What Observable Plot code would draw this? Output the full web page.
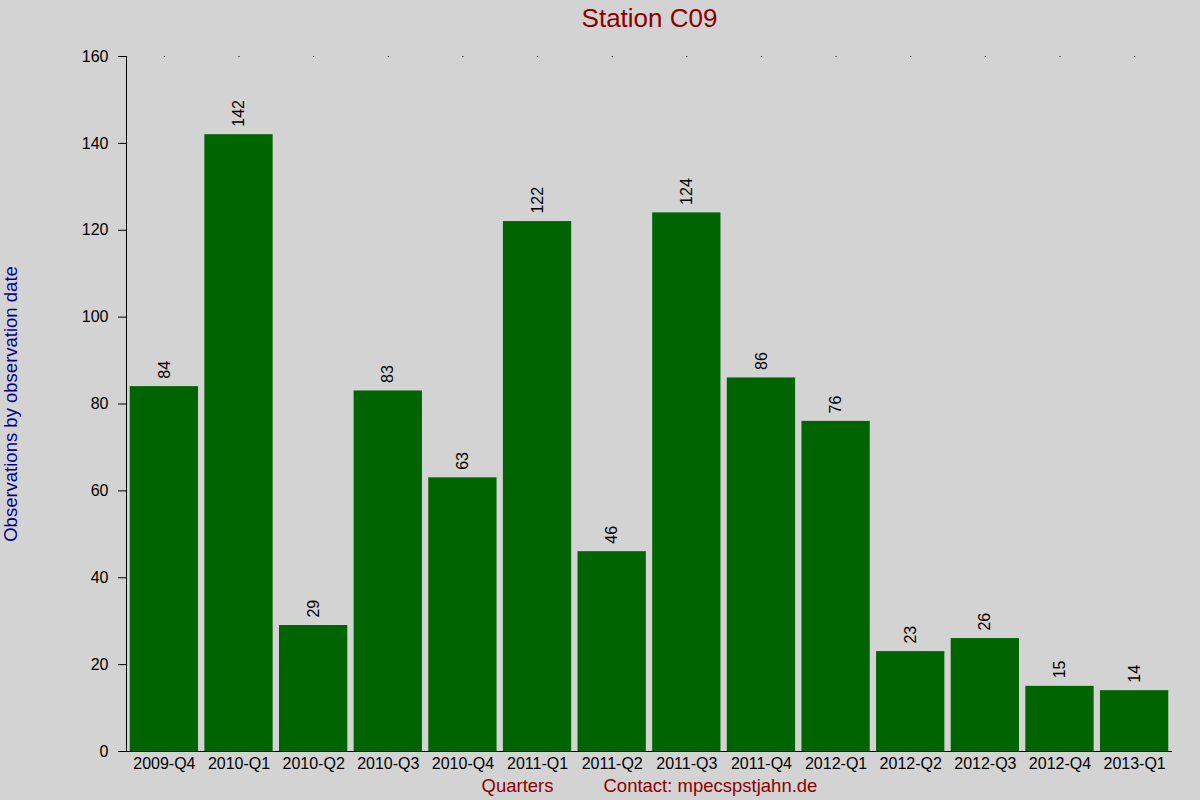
<!DOCTYPE html>
<html>
<head>
<meta charset="utf-8">
<script src="https://cdn.jsdelivr.net/npm/d3@7"></script>
<script src="https://cdn.jsdelivr.net/npm/@observablehq/plot@0.6"></script>
<style>
  html, body { margin: 0; padding: 0; background: #d3d3d3; }
</style>
</head>
<body>
<div id="chart"></div>
<script>
const quarters = ["2009-Q4","2010-Q1","2010-Q2","2010-Q3","2010-Q4","2011-Q1","2011-Q2","2011-Q3","2011-Q4","2012-Q1","2012-Q2","2012-Q3","2012-Q4","2013-Q1"];
const counts = [84,142,29,83,63,122,46,124,86,76,23,26,15,14];
const yTicks = [0,20,40,60,80,100,120,140,160];
const titleText = "Station C09";
const yLabel = "Observations by observation date";
const xLabel = "Quarters";
const contactText = "Contact: mpecspstjahn.de";

const data = quarters.map((q, i) => ({quarter: q, count: counts[i]}));

const chart = Plot.plot({
  width: 1200,
  height: 800,
  marginLeft: 126,
  marginRight: 28,
  marginTop: 56,
  marginBottom: 49,
  style: {background: "#d3d3d3", fontFamily: "'Liberation Sans', Arial, sans-serif", fontSize: "16px", color: "black"},
  x: {domain: quarters, paddingInner: 0.085, paddingOuter: 0.05, round: false, label: null},
  y: {domain: [0, 160], label: null},
  marks: [
    Plot.barY(data, {x: "quarter", y: "count", fill: "#006400"}),
    Plot.text(data, {x: "quarter", y: "count", text: d => String(d.count), rotate: -90, textAnchor: "start", dy: -8, fontSize: 16, fill: "black"}),
    Plot.axisY({ticks: yTicks, tickSize: 8, tickPadding: 10, fontSize: 16, label: null, stroke: "black"}),
    Plot.frame({anchor: "left", stroke: "black"}),
    Plot.axisX({anchor: "bottom", tickSize: 0, tickPadding: 6, fontSize: 16, label: null}),
    Plot.axisX({anchor: "top", tickSize: 1, tickFormat: () => "", label: null, stroke: "black"}),
    Plot.ruleY([0], {stroke: "black"}),
    Plot.text([titleText], {frameAnchor: "top", lineAnchor: "middle", dy: -38, text: d => d, fontSize: 26, fill: "#8b0000"}),
    Plot.text([yLabel], {frameAnchor: "left", textAnchor: "middle", lineAnchor: "middle", dx: -115, rotate: -90, text: d => d, fontSize: 18.5, fill: "#00008b"}),
    Plot.text([xLabel], {frameAnchor: "bottom-left", lineAnchor: "middle", dx: 355, dy: 35, textAnchor: "start", text: d => d, fontSize: 18.5, fill: "#8b0000"}),
    Plot.text([contactText], {frameAnchor: "bottom-left", lineAnchor: "middle", dx: 477, dy: 35, textAnchor: "start", text: d => d, fontSize: 18.5, fill: "#8b0000"})
  ]
});
document.getElementById("chart").appendChild(chart);
</script>
</body>
</html>
